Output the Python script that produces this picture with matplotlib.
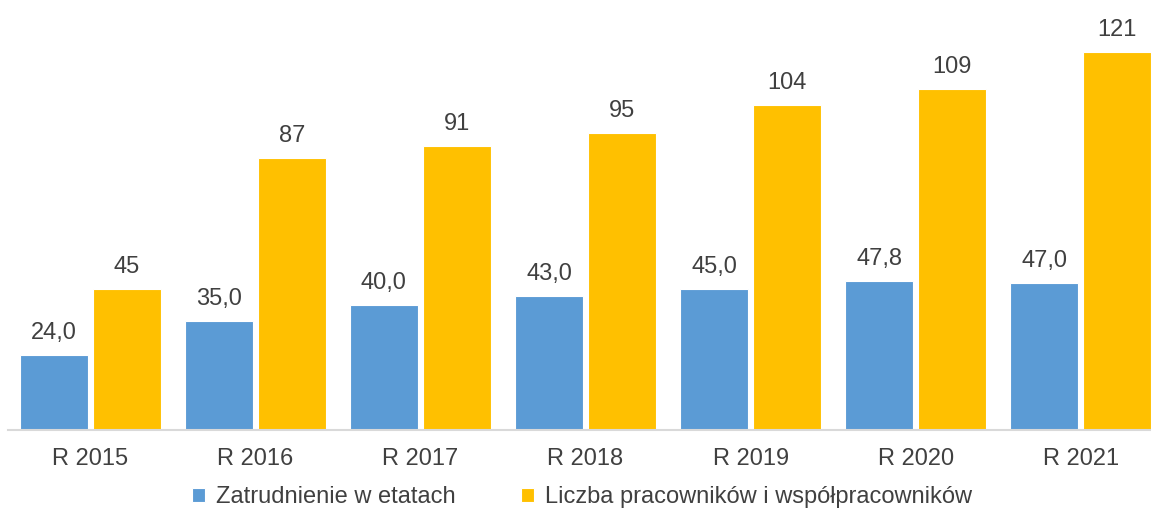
import matplotlib.pyplot as plt
import numpy as np

plt.rcParams['font.family'] = ['Liberation Sans', 'DejaVu Sans']

years = ['R 2015', 'R 2016', 'R 2017', 'R 2018', 'R 2019', 'R 2020', 'R 2021']
etaty = [24.0, 35.0, 40.0, 43.0, 45.0, 47.8, 47.0]
pracownicy = [45, 87, 91, 95, 104, 109, 121]

blue = '#5B9BD5'
gold = '#FFC000'
txt = '#404040'

fig = plt.figure(figsize=(11.51, 5.11), dpi=100)
# axes runs a bit past the right edge, last bar gets clipped
ax = fig.add_axes([7.5 / 1151, 81 / 511, 1156 / 1151, 430 / 511])

x = np.arange(len(years))
w = 0.412
off = 0.221

b1 = ax.bar(x - off, etaty, w, color=blue, edgecolor='white', linewidth=0.8,
            label='Zatrudnienie w etatach')
b2 = ax.bar(x + off, pracownicy, w, color=gold, edgecolor='white', linewidth=0.8,
            label='Liczba pracowników i współpracowników')

for rect, v in zip(b1, etaty):
    ax.annotate(f'{v:.1f}'.replace('.', ','), (rect.get_x() + rect.get_width() / 2, v),
                xytext=(0, 8), textcoords='offset points', ha='center', va='bottom',
                fontsize=17, color=txt)
for rect, v in zip(b2, pracownicy):
    ax.annotate(f'{v}', (rect.get_x() + rect.get_width() / 2, v),
                xytext=(0, 8), textcoords='offset points', ha='center', va='bottom',
                fontsize=17, color=txt)

ax.set_xlim(-0.5, 6.5)
ax.set_ylim(0, 137.6)
ax.set_xticks(x)
ax.set_xticklabels(years, fontsize=17, color=txt)
ax.tick_params(axis='x', length=0, pad=13)
ax.set_yticks([])
for s in ['top', 'left', 'right']:
    ax.spines[s].set_visible(False)
ax.spines['bottom'].set_color('#D9D9D9')
ax.spines['bottom'].set_linewidth(1.5)

fig.legend(handles=[b1, b2], loc='center', bbox_to_anchor=(582 / 1151, 1 - 497 / 511),
           ncol=2, frameon=False, fontsize=17, handlelength=0.55, handleheight=0.55,
           handletextpad=0.45, columnspacing=2.8, labelcolor=txt, borderpad=0)

fig.savefig('out.png', dpi=100)
